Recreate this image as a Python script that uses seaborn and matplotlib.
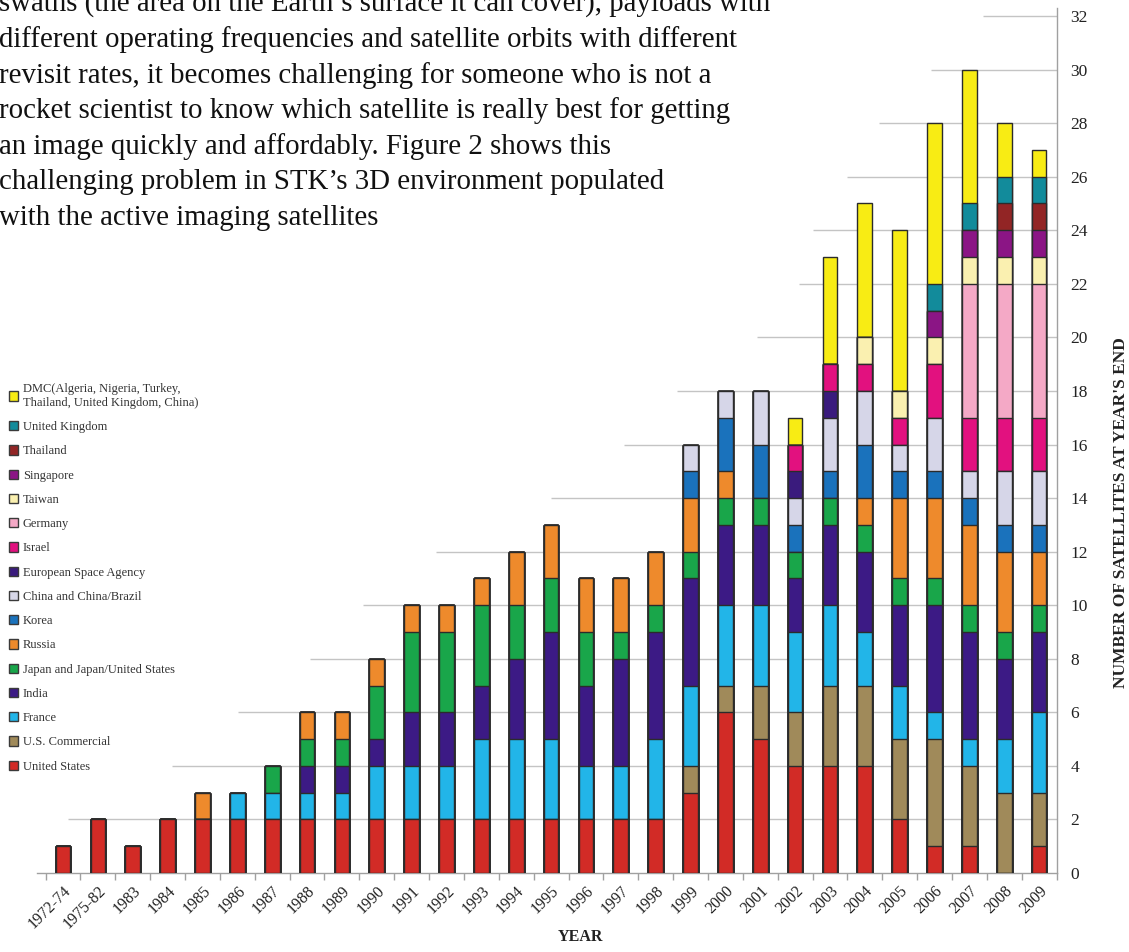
import numpy as np
import pandas as pd
import matplotlib
matplotlib.use('Agg')
import matplotlib.pyplot as plt
from matplotlib.patches import Patch
import seaborn as sns

# ---------------- data ----------------
categories = ['1972-74', '1975-82', '1983', '1984', '1985', '1986', '1987', '1988',
              '1989', '1990', '1991', '1992', '1993', '1994', '1995', '1996', '1997',
              '1998', '1999', '2000', '2001', '2002', '2003', '2004', '2005', '2006',
              '2007', '2008', '2009']

united_states = [1, 2, 1, 2, 2, 2, 2, 2, 2, 2, 2, 2, 2, 2, 2, 2, 2, 2, 3, 6, 5, 4, 4, 4, 2, 1, 1, 0, 1]
us_commercial = [0] * 18 + [1, 1, 2, 2, 3, 3, 3, 4, 3, 3, 2]
france = [0, 0, 0, 0, 0, 1, 1, 1, 1, 2, 2, 2, 3, 3, 3, 2, 2, 3, 3, 3, 3, 3, 3, 2, 2, 1, 1, 2, 3]
india = [0, 0, 0, 0, 0, 0, 0, 1, 1, 1, 2, 2, 2, 3, 4, 3, 4, 4, 4, 3, 3, 2, 3, 3, 3, 4, 4, 3, 3]
japan = [0, 0, 0, 0, 0, 0, 1, 1, 1, 2, 3, 3, 3, 2, 2, 2, 1, 1, 1, 1, 1, 1, 1, 1, 1, 1, 1, 1, 1]
russia = [0, 0, 0, 0, 1, 0, 0, 1, 1, 1, 1, 1, 1, 2, 2, 2, 2, 2, 2, 1, 0, 0, 0, 1, 3, 3, 3, 3, 2]
korea = [0] * 18 + [1, 2, 2, 1, 1, 2, 1, 1, 1, 1, 1]
china = [0] * 18 + [1, 1, 2, 1, 2, 2, 1, 2, 1, 2, 2]
esa = [0] * 21 + [1, 1, 0, 0, 0, 0, 0, 0]
israel = [0] * 21 + [1, 1, 1, 1, 2, 2, 2, 2]
germany = [0] * 26 + [5, 5, 5]
taiwan = [0] * 23 + [1, 1, 1, 1, 1, 1]
singapore = [0] * 25 + [1, 1, 1, 1]
thailand = [0] * 27 + [1, 1]
united_kingdom = [0] * 25 + [1, 1, 1, 1]
dmc = [0] * 21 + [1, 4, 5, 6, 6, 5, 2, 1]

series_names = ['United States', 'U.S. Commercial', 'France', 'India',
                'Japan and Japan/United States', 'Russia', 'Korea',
                'China and China/Brazil', 'European Space Agency', 'Israel',
                'Germany', 'Taiwan', 'Singapore', 'Thailand', 'United Kingdom',
                'DMC(Algeria, Nigeria, Turkey,\nThailand, United Kingdom, China)']
series_values = [united_states, us_commercial, france, india, japan, russia, korea,
                 china, esa, israel, germany, taiwan, singapore, thailand,
                 united_kingdom, dmc]
colors = ['#d22b26', '#a08a5a', '#22b5e8', '#3c1a85', '#19a64a', '#ee8a2c',
          '#1a72bc', '#d6d6e8', '#3a1b7d', '#e2117f', '#f4a9c6', '#faf0b0',
          '#8b1585', '#922525', '#128b9b', '#f8ec14']

paragraph = ["swaths (the area on the Earth\u2019s surface it can cover), payloads with",
             "different operating frequencies and satellite orbits with different",
             "revisit rates, it becomes challenging for someone who is not a",
             "rocket scientist to know which satellite is really best for getting",
             "an image quickly and affordably. Figure 2 shows this",
             "challenging problem in STK\u2019s 3D environment populated",
             "with the active imaging satellites"]

# ---------------- style ----------------
sns.set_theme(style='white')
plt.rcParams['font.family'] = ['Liberation Serif', 'DejaVu Serif']

fig = plt.figure(figsize=(11.29, 9.52), dpi=100)
ax = fig.add_axes([0.0327, 0.0830, 0.9031, 0.9086])

df = pd.DataFrame(np.array(series_values).T, columns=series_names)
df.insert(0, 'year', categories)
cum = df[series_names].cumsum(axis=1)

# draw cumulative totals from the top layer down so each stack shows its segments
for name, col in zip(series_names[::-1], colors[::-1]):
    sns.barplot(x=df['year'], y=cum[name], order=categories, color=col,
                saturation=1, width=0.42, edgecolor='#2b2b2b', linewidth=1.0,
                errorbar=None, ax=ax, zorder=3)

# partial gridlines (their left parts are hidden by the page text in the original)
grid_values = list(range(2, 33, 2))
grid_start = [0.14, 3.13, 5.02, 7.09, 8.6, 10.7, 14.0, 16.1, 17.6, 19.9, 21.1,
              21.5, 22.5, 23.4, 24.9, 26.4]
ax.hlines(grid_values, grid_start, 28.5, colors='#c4c4c4', linewidth=1.0, zorder=1)

ax.set_xlim(-0.75, 28.5)
ax.set_ylim(0, 32.3)
for s in ['top', 'left']:
    ax.spines[s].set_visible(False)
for s in ['bottom', 'right']:
    ax.spines[s].set_color('#a0a0a0')
    ax.spines[s].set_linewidth(1.0)

ax.yaxis.tick_right()
ax.set_yticks(range(0, 33, 2))
ax.tick_params(axis='y', which='major', length=0, pad=10, labelsize=12.5,
               labelcolor='#222222')

ax.set_xticks(range(len(categories)))
ax.set_xticklabels(categories, rotation=45, ha='right', rotation_mode='anchor')
ax.tick_params(axis='x', which='major', length=0, pad=7, labelsize=11.5,
               labelcolor='#222222')
ax.set_xticks(np.arange(-0.5, 28.6, 1), minor=True)
ax.tick_params(axis='x', which='minor', bottom=True, length=5, width=1,
               color='#a0a0a0', direction='out')

ax.set_xlabel('YEAR', fontweight='bold', fontsize=11.5, color='#222222')
ax.xaxis.set_label_coords(0.533, -0.065)
ax.yaxis.set_label_position('right')
ax.set_ylabel("NUMBER OF SATELLITES AT YEAR'S END", fontweight='bold',
              fontsize=12.5, color='#222222')
ax.yaxis.set_label_coords(1.055, 0.417)

# legend (top entry = DMC)
handles = [Patch(facecolor=c, edgecolor='#3a3a3a', linewidth=1.0) for c in colors][::-1]
fig.legend(handles, series_names[::-1], loc='upper left',
           bbox_to_anchor=(9 / 1129, 1 - 383 / 952), frameon=False, fontsize=9,
           handlelength=0.75, handleheight=0.75, handletextpad=0.35,
           labelspacing=0.98, borderpad=0, borderaxespad=0,
           labelcolor='#333333')

# page text overlapping the chart
baselines = [12, 47, 83, 118, 154, 189, 225]
for line, yb in zip(paragraph, baselines):
    fig.text(-1 / 1129, 1 - yb / 952, line, fontsize=20.8, va='baseline',
             ha='left', color='#111111')

fig.savefig('out.png', dpi=100)
